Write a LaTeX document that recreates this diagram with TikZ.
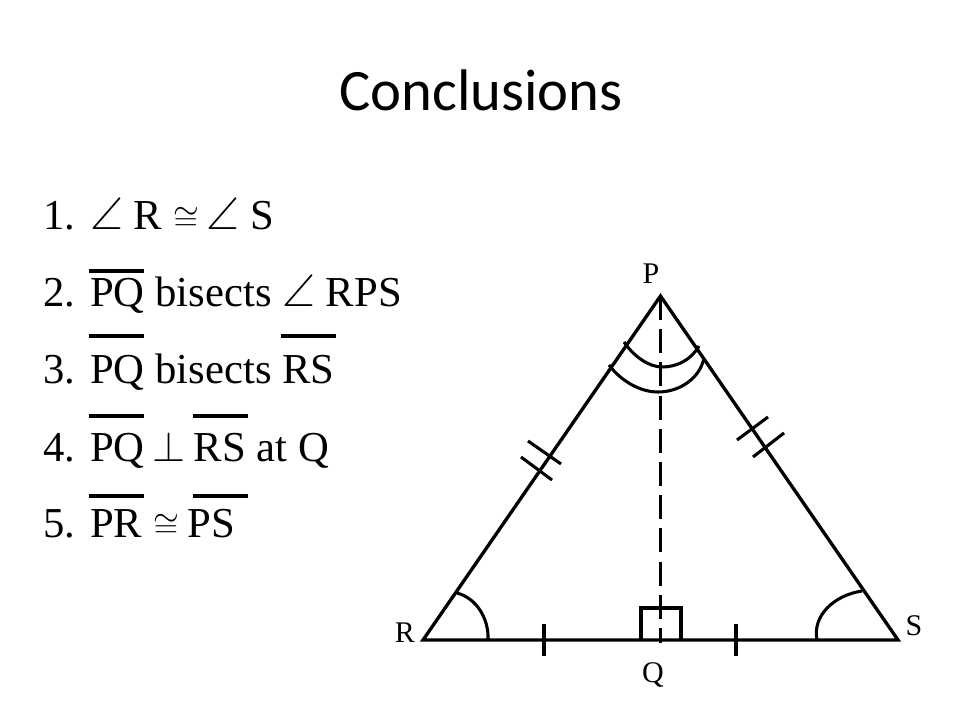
\documentclass[tikz,border=0pt]{standalone}
\usepackage{amssymb}
\usepackage{fontspec}
\setmainfont{Liberation Serif}
\newfontfamily\titlefont{Carlito}
\newcommand{\angsym}{\scalebox{1.07}{$\angle$}}
\newcommand{\perpsym}{\scalebox{1.28}{$\perp$}}
\tikzset{
  item/.style={anchor=base west,inner sep=0pt,font=\fontsize{32}{38}\selectfont},
  vertex/.style={inner sep=0pt,font=\fontsize{22.5}{26}\selectfont},
  edge/.style={line width=2.5pt},
  mark line/.style={line width=2.3pt}
}
\begin{document}
\begin{tikzpicture}[x=0.75pt,y=-0.75pt]
  \useasboundingbox (0,0) rectangle (960,720);
  \node[inner sep=0pt,font=\titlefont\fontsize{44}{50}\selectfont] (title) at (481,90) {Conclusions};
  % numbered list
  \foreach \i/\yval in {1/230,2/306,3/383,4/461,5/537} {
    \node[item] (num\i) at (43,\yval) {\i.};
  }
  \node[item] (line1) at (90,230) {\angsym{} R $\cong$\hspace{-2pt} \angsym{} S};
  \node[item] (line2) at (90,306) {PQ bisects \angsym{} RPS};
  \node[item] (line3) at (90,383) {PQ bisects RS};
  \node[item] (line4) at (90,461) {PQ\hspace{-2.5pt} \perpsym{}\hspace{-1.5pt} RS at Q};
  \node[item] (line5) at (90,537) {PR $\cong$\hspace{-1.5pt} PS};
  % bars over the segments
  \foreach \xa/\xb/\yval in {89/144/271, 89/144/336, 281/336/336, 89/144/416, 193/248/416, 89/144/496, 193/248/496} {
    \draw[line width=2.4pt] (\xa,\yval) -- (\xb,\yval);
  }
  % triangle
  \coordinate (P) at (660.5,296);
  \coordinate (Q) at (660.5,643);
  \coordinate (R) at (423,640);
  \coordinate (S) at (898,640);
  \draw[edge,line join=miter] (R) -- (P) -- (S) -- cycle;
  \draw[line width=2.3pt,dash pattern=on 18pt off 6.9pt] (P) -- (Q);
  \node[vertex] (labelP) at (651,274) {P};
  \node[vertex] (labelQ) at (653,675) {Q};
  \node[vertex] (labelR) at (405,633) {R};
  \node[vertex] (labelS) at (914,626) {S};
  % right angle
  \draw[mark line] (641,640) -- (641,608) -- (681,608) -- (681,640);
  % equal parts
  \foreach \xval in {544,736} {
    \draw[mark line] (\xval,624) -- (\xval,656);
  }
  \draw[mark line] (521,457) -- (552,480);
  \draw[mark line] (528,441) -- (561,464);
  \draw[mark line] (737,440) -- (768,417);
  \draw[mark line] (753,457) -- (784,433);
  % angle arcs
  \draw[mark line] (624,342) .. controls (635,358) and (650,367) .. (662,367) .. controls (677,367) and (691,360) .. (699,346);
  \draw[mark line] (609,365) .. controls (621,381) and (640,392) .. (658,392) .. controls (680,392) and (700,378) .. (704,358);
  \draw[mark line] (457,593) .. controls (476,598) and (489,618) .. (488,640);
  \draw[mark line] (862,591) .. controls (835,595) and (812,615) .. (817,640);
\end{tikzpicture}
\end{document}
